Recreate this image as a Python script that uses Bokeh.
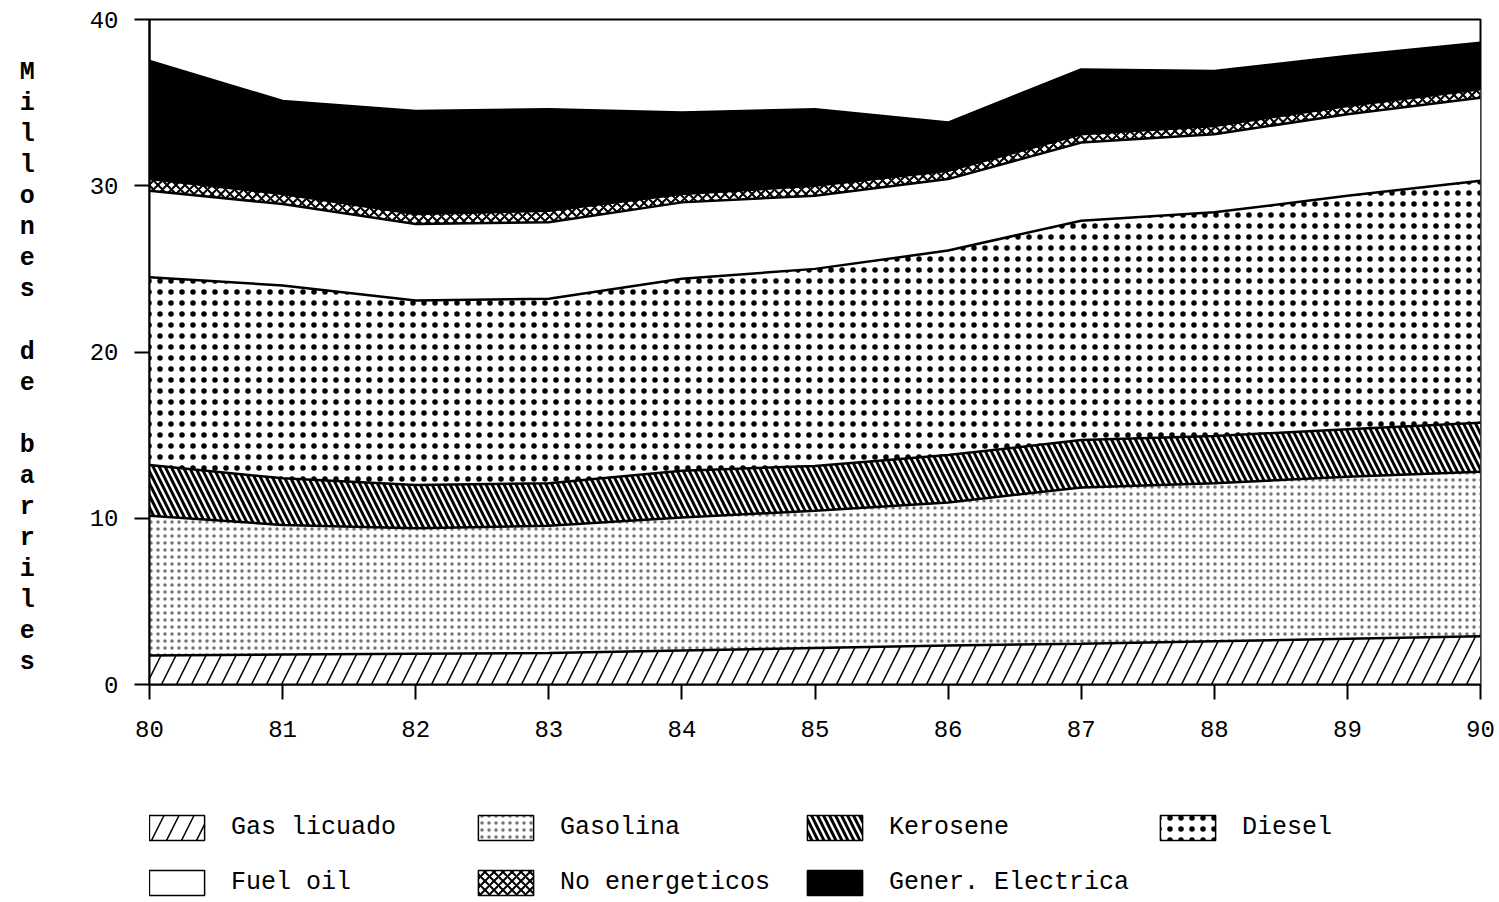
from bokeh.plotting import figure
from bokeh.layouts import column
from bokeh.models import (Range1d, Legend, LegendItem, FixedTicker,
                          ColumnDataSource, Title)
from bokeh.embed import file_html
from bokeh.resources import INLINE

# ---- data (millones de barriles, layer values) ----
years = [80, 81, 82, 83, 84, 85, 86, 87, 88, 89, 90]
gas_licuado = [1.75, 1.8, 1.85, 1.9, 2.05, 2.2, 2.35, 2.45, 2.6, 2.75, 2.9]
gasolina = [8.4, 7.8, 7.55, 7.65, 8.0, 8.25, 8.6, 9.4, 9.5, 9.75, 9.9]
kerosene = [3.05, 2.8, 2.6, 2.55, 2.8, 2.7, 2.85, 2.85, 2.85, 2.85, 2.95]
diesel = [11.3, 11.6, 11.1, 11.1, 11.55, 11.85, 12.3, 13.2, 13.45, 14.05, 14.55]
fuel_oil = [5.2, 4.9, 4.6, 4.6, 4.6, 4.4, 4.3, 4.7, 4.7, 4.9, 5.0]
no_energeticos = [0.7, 0.6, 0.6, 0.7, 0.5, 0.6, 0.5, 0.5, 0.5, 0.5, 0.5]
gener_electrica = [7.1, 5.6, 6.2, 6.1, 4.9, 4.6, 2.9, 3.9, 3.3, 3.0, 2.8]

labels = ["Gas licuado", "Gasolina", "Kerosene", "Diesel",
          "Fuel oil", "No energeticos", "Gener. Electrica"]
y_ticks = [0, 10, 20, 30, 40]
y_title = "Millones de barriles"

FONT = "Liberation Mono"

stackers = ["gas", "gasolina", "kerosene", "diesel", "fuel", "noen", "gener"]
source = ColumnDataSource(dict(year=years, gas=gas_licuado, gasolina=gasolina,
                               kerosene=kerosene, diesel=diesel, fuel=fuel_oil,
                               noen=no_energeticos, gener=gener_electrica))

fills = ["white", "white", "white", "white", "white", "white", "black"]
patterns = ["/", ".", "\\", ".", None, "x", None]
scales = [30, 7, 12, 11, 12, 9, 12]
weights = [1.5, 1.0, 3.0, 2.0, 1.0, 2.0, 1.0]
hatch_alphas = [1.0, 0.55, 1.0, 1.0, 1.0, 1.0, 1.0]

p = figure(frame_width=1331, frame_height=665,
           min_border_left=149, min_border_right=16,
           min_border_top=19, min_border_bottom=66,
           x_range=Range1d(80, 90), y_range=Range1d(0, 40),
           output_backend="svg", toolbar_location=None,
           background_fill_color="white", border_fill_color="white")

p.varea_stack(stackers, x="year", source=source,
              fill_color=fills, hatch_pattern=patterns,
              hatch_scale=scales, hatch_weight=weights,
              hatch_alpha=hatch_alphas, hatch_color="black")
p.vline_stack(stackers, x="year", source=source,
              line_color="black", line_width=2.5)

p.grid.visible = False
p.outline_line_color = "black"
p.outline_line_width = 2

for ax in (p.xaxis[0], p.yaxis[0]):
    ax.axis_line_color = "black"
    ax.axis_line_width = 2
    ax.major_tick_line_color = "black"
    ax.major_tick_line_width = 2
    ax.major_tick_in = 0
    ax.major_tick_out = 15
    ax.minor_tick_line_color = None
    ax.major_label_text_font = FONT
    ax.major_label_text_font_size = "24px"
    ax.major_label_text_color = "black"

p.xaxis[0].ticker = FixedTicker(ticks=years)
p.xaxis[0].major_label_standoff = 21
p.yaxis[0].ticker = FixedTicker(ticks=y_ticks)
p.yaxis[0].major_label_standoff = 16

yax = p.yaxis[0]
if "axis_label_orientation" in yax.properties():
    yax.axis_label = "\n".join(" " + y_title)
    yax.axis_label_orientation = "horizontal"
    yax.axis_label_standoff = 52
    yax.axis_label_text_font = FONT
    yax.axis_label_text_font_size = "25px"
    yax.axis_label_text_font_style = "bold"
    yax.axis_label_text_color = "black"
    yax.axis_label_text_align = "center"
    yax.axis_label_text_line_height = 1.07
else:
    p.add_layout(Title(text=y_title, text_font=FONT, text_font_size="25px",
                       align="center"), "left")

# ---- legend in its own strip below the chart ----
lg = figure(width=1496, height=151, x_range=Range1d(0, 1), y_range=Range1d(0, 1),
            x_axis_type=None, y_axis_type=None,
            min_border_left=0, min_border_right=0, min_border_top=0,
            min_border_bottom=0, output_backend="svg", toolbar_location=None,
            outline_line_color=None, background_fill_color="white",
            border_fill_color="white")
lg.grid.visible = False

# swatch proxies: quads built from the series (they fall outside this strip's
# ranges, so only their legend swatches are visible)
items = []
for key, lab, fc, hp, hs, hw, ha in zip(stackers, labels, fills, patterns,
                                        scales, weights, hatch_alphas):
    r = lg.quad(left="year", right="year", bottom=0, top=key, source=source,
                fill_color=fc, hatch_pattern=hp, hatch_scale=hs,
                hatch_weight=hw, hatch_alpha=ha, hatch_color="black",
                line_color="black", line_width=1.5)
    items.append(LegendItem(label=lab, renderers=[r]))

legend = Legend(items=items, orientation="horizontal", ncols=4,
                location=(-7, 3), padding=0, margin=0,
                glyph_width=69, glyph_height=31, label_standoff=20,
                label_width=216, spacing=24,
                label_text_font=FONT, label_text_font_size="25px",
                label_text_color="black",
                border_line_color=None, background_fill_alpha=0)
lg.add_layout(legend)

layout = column(p, lg, spacing=0)
open("out.html", "w").write(file_html(layout, INLINE))
